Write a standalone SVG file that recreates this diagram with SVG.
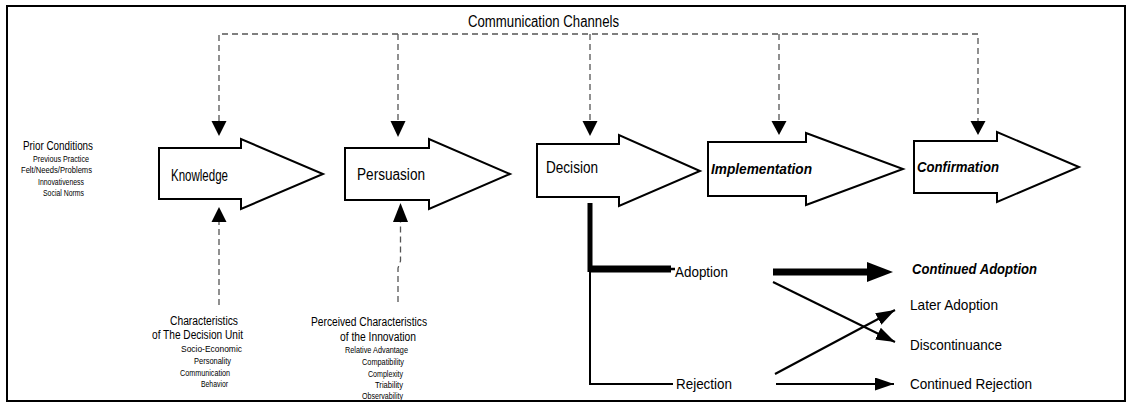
<svg xmlns="http://www.w3.org/2000/svg" width="1127" height="411" viewBox="0 0 1127 411">
<style>
text{font-family:"Liberation Sans",Arial,sans-serif;fill:#000}
.blk{fill:#fff;stroke:#000;stroke-width:2;stroke-linejoin:miter}
.dash{fill:none;stroke:#555;stroke-width:1.3;stroke-dasharray:6 4}
.head{fill:#000}
.thin{fill:none;stroke:#000;stroke-width:2}
.lbl{font-size:16px}
.bi{font-size:15px;font-weight:bold;font-style:italic}
.mid{font-size:15px}
.sm{font-size:9.5px}
.pc{font-size:12.5px}
</style>
<defs>
<marker id="ah" markerUnits="userSpaceOnUse" markerWidth="20" markerHeight="14" refX="19" refY="6.5" orient="auto">
<path d="M0,0 L19,6.5 L0,13 Z" fill="#000"/>
</marker>
</defs>
<rect x="7" y="6" width="1118" height="395" fill="#fff" stroke="#000" stroke-width="2"/>

<g id="channels">
<text x="468" y="27" class="lbl" textLength="151" lengthAdjust="spacingAndGlyphs">Communication Channels</text>
</g>

<g id="connectors">
<path class="dash" d="M219,121 V34 H978 V121 M398,34 V121 M590,34 V121 M779,34 V121"/>
<polygon class="head" points="211.5,121 226.5,121 219,136"/>
<polygon class="head" points="390.5,121 405.5,121 398,137"/>
<polygon class="head" points="582.5,121 597.5,121 590,136"/>
<polygon class="head" points="771.5,121 786.5,121 779,135"/>
<polygon class="head" points="970.5,121 985.5,121 978,135"/>
<path class="dash" d="M219,305 V222"/>
<polygon class="head" points="211.5,222 226.5,222 219,207"/>
<path class="dash" d="M398,302 V268 L400.5,261 V222"/>
<polygon class="head" points="393,222 408,222 400.5,203"/>
<rect x="587.5" y="203" width="5" height="69" fill="#000"/>
<path d="M590,269 H671" stroke="#000" stroke-width="7"/>
<path d="M671,269 L675,269" stroke="#000" stroke-width="2.5"/>
<path class="thin" d="M590,270 V384 H673"/>
<path d="M773,272 H868" stroke="#000" stroke-width="7"/>
<polygon class="head" points="867,262 893,272 867,282"/>
<line class="thin" x1="773" y1="282" x2="895" y2="342" marker-end="url(#ah)"/>
<line class="thin" x1="775" y1="374" x2="895" y2="310" marker-end="url(#ah)"/>
<line class="thin" x1="776" y1="384" x2="894" y2="384" marker-end="url(#ah)"/>
</g>

<g id="prior">
<text x="23" y="150" class="pc" textLength="70" lengthAdjust="spacingAndGlyphs">Prior Conditions</text>
<text x="33" y="162" class="sm" textLength="56" lengthAdjust="spacingAndGlyphs">Previous Practice</text>
<text x="21" y="173" class="sm" textLength="71" lengthAdjust="spacingAndGlyphs">Felt/Needs/Problems</text>
<text x="38" y="185" class="sm" textLength="46" lengthAdjust="spacingAndGlyphs">Innovativeness</text>
<text x="43" y="196" class="sm" textLength="41" lengthAdjust="spacingAndGlyphs">Social Norms</text>
</g>

<g id="knowledge">
<path class="blk" d="M159,148 H241 V139 L323,174 L241,209 V199 H159 Z"/>
<text x="171" y="181" class="lbl" textLength="57" lengthAdjust="spacingAndGlyphs">Knowledge</text>
</g>
<g id="persuasion">
<path class="blk" d="M345,148 H429 V139 L510,174 L429,209 V200 H345 Z"/>
<text x="357" y="180" class="lbl" textLength="68" lengthAdjust="spacingAndGlyphs">Persuasion</text>
</g>
<g id="decision">
<path class="blk" d="M537,144 H619 V135 L700,171 L619,206 V197 H537 Z"/>
<text x="546" y="173" class="lbl" textLength="52" lengthAdjust="spacingAndGlyphs">Decision</text>
</g>
<g id="implementation">
<path class="blk" d="M708,142 H806 V133 L903,169 L806,205 V196 H708 Z"/>
<text x="711" y="174" class="bi" textLength="101" lengthAdjust="spacingAndGlyphs">Implementation</text>
</g>
<g id="confirmation">
<path class="blk" d="M914,141 H997 V132 L1079,167 L997,202 V193 H914 Z"/>
<text x="917" y="172" class="bi" textLength="82" lengthAdjust="spacingAndGlyphs">Confirmation</text>
</g>

<g id="unit">
<text x="170" y="325" class="pc" textLength="68" lengthAdjust="spacingAndGlyphs">Characteristics</text>
<text x="152" y="339" class="pc" textLength="91" lengthAdjust="spacingAndGlyphs">of The Decision Unit</text>
<text x="181" y="352" class="sm" textLength="61" lengthAdjust="spacingAndGlyphs">Socio-Economic</text>
<text x="194" y="364" class="sm" textLength="37" lengthAdjust="spacingAndGlyphs">Personality</text>
<text x="180" y="376" class="sm" textLength="50" lengthAdjust="spacingAndGlyphs">Communication</text>
<text x="201" y="387" class="sm" textLength="27" lengthAdjust="spacingAndGlyphs">Behavior</text>
</g>

<g id="innovation">
<text x="311" y="326" class="pc" textLength="116" lengthAdjust="spacingAndGlyphs">Perceived Characteristics</text>
<text x="340" y="341" class="pc" textLength="76" lengthAdjust="spacingAndGlyphs">of the Innovation</text>
<text x="345" y="353" class="sm" textLength="63" lengthAdjust="spacingAndGlyphs">Relative Advantage</text>
<text x="362" y="365" class="sm" textLength="42" lengthAdjust="spacingAndGlyphs">Compatibility</text>
<text x="368" y="377" class="sm" textLength="35" lengthAdjust="spacingAndGlyphs">Complexity</text>
<text x="375" y="388" class="sm" textLength="28" lengthAdjust="spacingAndGlyphs">Triability</text>
<text x="362" y="399" class="sm" textLength="41" lengthAdjust="spacingAndGlyphs">Observability</text>
</g>

<g id="adoption"><text x="675" y="277" class="mid" textLength="53" lengthAdjust="spacingAndGlyphs">Adoption</text></g>
<g id="rejection"><text x="676" y="389" class="mid" textLength="56" lengthAdjust="spacingAndGlyphs">Rejection</text></g>
<g id="continued-adoption"><text x="912" y="274" class="bi" textLength="125" lengthAdjust="spacingAndGlyphs">Continued Adoption</text></g>
<g id="later-adoption"><text x="910" y="310" class="mid" textLength="88" lengthAdjust="spacingAndGlyphs">Later Adoption</text></g>
<g id="discontinuance"><text x="910" y="350" class="mid" textLength="92" lengthAdjust="spacingAndGlyphs">Discontinuance</text></g>
<g id="continued-rejection"><text x="910" y="389" class="mid" textLength="122" lengthAdjust="spacingAndGlyphs">Continued Rejection</text></g>
</svg>
